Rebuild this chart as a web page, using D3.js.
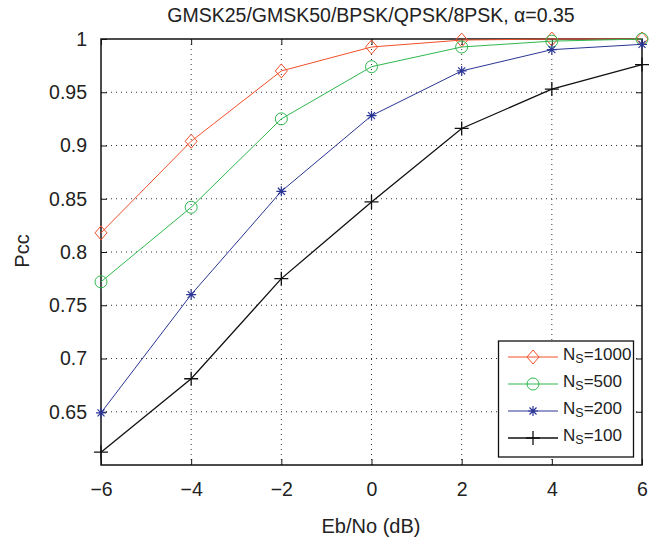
<!DOCTYPE html>
<html><head><meta charset="utf-8">
<script src="https://d3js.org/d3.v7.min.js"></script>
<style>body{margin:0;background:#fff}svg{display:block}text{font-family:"Liberation Sans",Arial,sans-serif;fill:#222}</style>
</head><body><svg id="c" width="670" height="539"></svg>
<script>
const ebno = [-6, -4, -2, 0, 2, 4, 6];
const ns1000 = [0.818, 0.904, 0.970, 0.9925, 0.999, 1.0, 1.0];
const ns500 = [0.772, 0.842, 0.925, 0.974, 0.9925, 0.998, 1.0];
const ns200 = [0.649, 0.760, 0.857, 0.928, 0.970, 0.990, 0.995];
const ns100 = [0.612, 0.681, 0.775, 0.847, 0.916, 0.953, 0.976];
const xTicks = [-6, -4, -2, 0, 2, 4, 6];
const yTicks = [0.65, 0.7, 0.75, 0.8, 0.85, 0.9, 0.95, 1];
const seriesNames = ["1000", "500", "200", "100"];
const seriesColors = ["#f0502a", "#2fb84f", "#2b3596", "#111111"];
const seriesMarkers = ["diamond", "circle", "star", "plus"];
const seriesValues = [ns1000, ns500, ns200, ns100];

const svg = d3.select("#c");
const L = 101, R = 642, T = 39, B = 465;
const x = d3.scaleLinear().domain([-6, 6]).range([L, R]);
const y = d3.scaleLinear().domain([0.6, 1]).range([B, T]);

// grid
const g = svg.append("g");
g.selectAll(".gx").data(xTicks.slice(1, -1)).join("line")
  .attr("x1", d => x(d)).attr("x2", d => x(d)).attr("y1", T).attr("y2", B)
  .attr("stroke", "#333").attr("stroke-width", 1).attr("stroke-dasharray", "1,4");
g.selectAll(".gy").data(yTicks.filter(d => d < 1)).join("line")
  .attr("y1", d => y(d)).attr("y2", d => y(d)).attr("x1", L).attr("x2", R)
  .attr("stroke", "#333").attr("stroke-width", 1).attr("stroke-dasharray", "1,4");

// axes with inward ticks
const fmtY = d => d === 1 ? "1" : String(d);
const axB = d3.axisBottom(x).tickValues(xTicks).tickSize(-6).tickPadding(17.5).tickFormat(d => d < 0 ? "\u2212" + Math.abs(d) : d);
const axT = d3.axisTop(x).tickValues(xTicks).tickSize(-6).tickFormat("");
const axLf = d3.axisLeft(y).tickValues(yTicks).tickSize(-6).tickPadding(14).tickFormat(fmtY);
const axRt = d3.axisRight(y).tickValues(yTicks).tickSize(-6).tickFormat("");
function style(sel){
  sel.selectAll(".tick line").attr("stroke", "#111").attr("stroke-width", 1);
  sel.selectAll("text").attr("font-size", 19.5).attr("fill", "#222").attr("font-family", "Liberation Sans, Arial, sans-serif"); }
svg.append("g").attr("transform", `translate(0,${B})`).call(axB).call(style);
svg.append("g").attr("transform", `translate(0,${T})`).call(axT).call(style);
svg.append("g").attr("transform", `translate(${L},0)`).call(axLf).call(style);
svg.append("g").attr("transform", `translate(${R},0)`).call(axRt).call(style);
svg.selectAll(".domain").remove();
svg.append("rect").attr("x", L).attr("y", T).attr("width", R - L).attr("height", B - T)
  .attr("fill", "none").attr("stroke", "#111").attr("stroke-width", 1.5);

function marker(sel, type, color) {
  if (type === "diamond") sel.append("path").attr("d", "M0,-7L6,0L0,7L-6,0Z").attr("fill", "none").attr("stroke", color).attr("stroke-width", 1);
  else if (type === "circle") sel.append("circle").attr("r", 6).attr("fill", "none").attr("stroke", color).attr("stroke-width", 1);
  else if (type === "star") sel.append("path").attr("d", "M-5,0H5M0,-5V5M-3.5,-3.5L3.5,3.5M-3.5,3.5L3.5,-3.5").attr("stroke", color).attr("stroke-width", 1.2);
  else sel.append("path").attr("d", "M-7,0H7M0,-7V7").attr("stroke", color).attr("stroke-width", 1.3);
}

const line = d3.line().x((d, i) => x(ebno[i])).y(d => y(d));
seriesValues.forEach((vals, k) => {
  svg.append("path").datum(vals).attr("d", line).attr("fill", "none")
    .attr("stroke", seriesColors[k]).attr("stroke-width", k === 3 ? 1.3 : 1);
  vals.forEach((v, i) => {
    const m = svg.append("g").attr("transform", `translate(${x(ebno[i])},${y(v)})`);
    marker(m, seriesMarkers[k], seriesColors[k]);
  });
});

// legend
const lg = svg.append("g");
lg.append("rect").attr("x", 498.5).attr("y", 341).attr("width", 135).attr("height", 116)
  .attr("fill", "#fff").attr("stroke", "#111").attr("stroke-width", 1.3);
const ly = [357, 384, 411, 438];
seriesNames.forEach((n, k) => {
  lg.append("line").attr("x1", 508).attr("x2", 558).attr("y1", ly[k]).attr("y2", ly[k])
    .attr("stroke", seriesColors[k]).attr("stroke-width", k === 3 ? 1.3 : 1);
  marker(lg.append("g").attr("transform", `translate(533,${ly[k]})`), seriesMarkers[k], seriesColors[k]);
  const t = lg.append("text").attr("x", 563).attr("y", ly[k] + 3).attr("font-size", 17);
  t.append("tspan").text("N");
  t.append("tspan").attr("font-size", 12.5).attr("dy", 2.5).text("S");
  t.append("tspan").attr("dy", -2.5).text("=" + n);
});

// title & labels
svg.append("text").attr("x", 371).attr("y", 22).attr("text-anchor", "middle").attr("font-size", 19.5)
  .text("GMSK25/GMSK50/BPSK/QPSK/8PSK, \u03b1=0.35");
svg.append("text").attr("x", 371).attr("y", 533).attr("text-anchor", "middle").attr("font-size", 20).text("Eb/No (dB)");
svg.append("text").attr("transform", "translate(29,251) rotate(-90)").attr("text-anchor", "middle").attr("font-size", 20).text("Pcc");
</script></body></html>
